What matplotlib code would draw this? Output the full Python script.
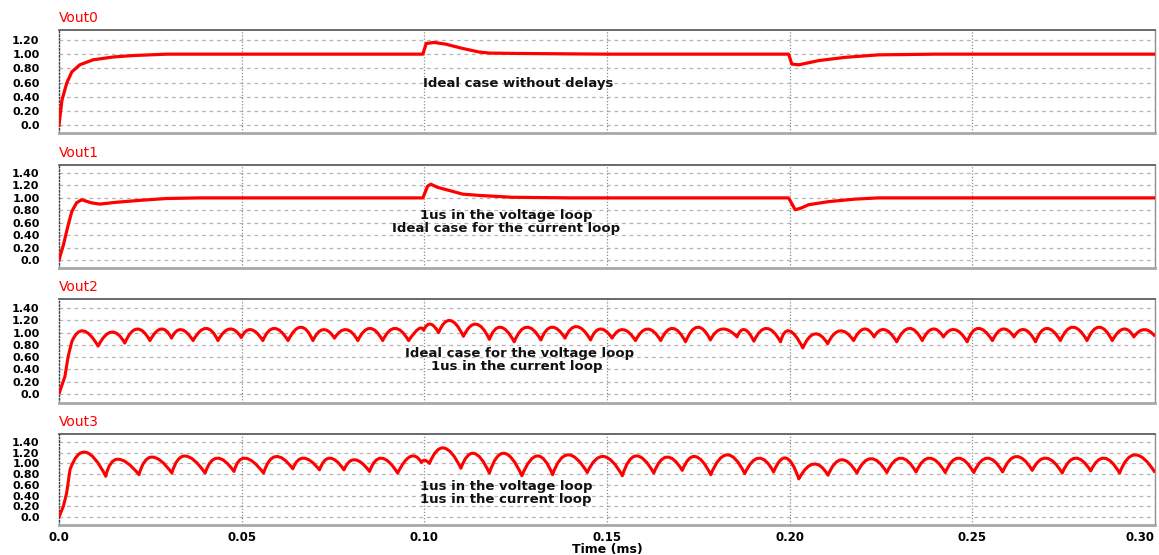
from matplotlib import pyplot
from matplotlib.path import Path
from matplotlib.patches import PathPatch
import numpy

# --- data (time in ms, voltage in per unit) ---
vout0_t = [0.0, 0.0008, 0.0021, 0.0035, 0.0057, 0.0093, 0.0148, 0.0202, 0.0295, 0.045, 0.06, 0.075,
           0.0996, 0.1005, 0.1027, 0.1059, 0.1105, 0.115, 0.1178, 0.125, 0.15, 0.175,
           0.1997, 0.2006, 0.2025, 0.208, 0.2152, 0.2243, 0.24, 0.27, 0.30]
vout0_v = [0.0, 0.35, 0.59, 0.75, 0.85, 0.92, 0.96, 0.98, 1.0, 1.0, 1.0, 1.0,
           1.0, 1.15, 1.165, 1.14, 1.08, 1.03, 1.015, 1.01, 1.0, 1.0,
           1.0, 0.86, 0.85, 0.91, 0.955, 0.99, 1.0, 1.0, 1.0]

vout1_t = [0.0, 0.0012, 0.0025, 0.0035, 0.0048, 0.0062, 0.0089, 0.0112, 0.0158, 0.0221, 0.0294, 0.0386,
           0.06, 0.08, 0.0996, 0.1009, 0.1018, 0.1036, 0.1068, 0.1105, 0.115, 0.124, 0.14, 0.16, 0.18,
           0.1997, 0.2015, 0.2029, 0.2052, 0.2107, 0.2179, 0.2243, 0.25, 0.28, 0.30]
vout1_v = [0.0, 0.24, 0.56, 0.78, 0.92, 0.97, 0.92, 0.90, 0.93, 0.96, 0.99, 1.0,
           1.0, 1.0, 1.0, 1.19, 1.22, 1.17, 1.12, 1.06, 1.04, 1.01, 1.0, 1.0, 1.0,
           1.0, 0.81, 0.83, 0.89, 0.94, 0.98, 1.0, 1.0, 1.0, 1.0]

# start-up ramp, then alternating peak / trough
vout2_rise_t = [0.0, 0.0016, 0.0025, 0.0035]
vout2_rise_v = [0.0, 0.28, 0.61, 0.85]
vout2_t = [0.0062, 0.0107, 0.0144, 0.0180, 0.0212, 0.0249, 0.0281, 0.0308, 0.0331, 0.0367,
           0.0404, 0.0435, 0.0467, 0.0499, 0.0522, 0.0558, 0.0586, 0.0627, 0.0663, 0.0695,
           0.0722, 0.0754, 0.0786, 0.0818, 0.0850, 0.0886, 0.0918, 0.0957, 0.0990, 0.0998,
           0.1015, 0.1039, 0.1068, 0.1107, 0.1141, 0.1178, 0.1205, 0.1246, 0.1278, 0.1319,
           0.1346, 0.1385, 0.1414, 0.1455, 0.1478, 0.1514, 0.1542, 0.1578, 0.1610, 0.1647,
           0.1678, 0.1715, 0.1747, 0.1783, 0.1811, 0.1856, 0.1874, 0.1902, 0.1935, 0.1975,
           0.1993, 0.2036, 0.2067, 0.2104, 0.2136, 0.2175, 0.2204, 0.2231, 0.2257, 0.2293,
           0.2327, 0.2363, 0.2391, 0.2421, 0.2450, 0.2486, 0.2512, 0.2555, 0.2582, 0.2614,
           0.2641, 0.2673, 0.2700, 0.2741, 0.2773, 0.2814, 0.2846, 0.2883, 0.2915, 0.2942,
           0.2970, 0.3000]
vout2_v = [1.03, 0.78, 1.01, 0.83, 1.06, 0.87, 1.06, 0.91, 1.05, 0.87,
           1.07, 0.87, 1.06, 0.92, 1.05, 0.87, 1.07, 0.87, 1.09, 0.87,
           1.05, 0.91, 1.05, 0.87, 1.07, 0.87, 1.07, 0.87, 1.06, 1.04,
           1.14, 1.00, 1.20, 0.94, 1.14, 0.89, 1.09, 0.85, 1.09, 0.88,
           1.09, 0.91, 1.10, 0.88, 1.06, 0.91, 1.05, 0.87, 1.06, 0.87,
           1.07, 0.85, 1.09, 0.88, 1.06, 0.93, 1.05, 0.86, 1.07, 0.85,
           1.03, 0.75, 0.98, 0.82, 1.03, 0.87, 1.06, 0.93, 1.05, 0.85,
           1.07, 0.87, 1.06, 0.93, 1.05, 0.85, 1.07, 0.87, 1.06, 0.93,
           1.05, 0.85, 1.07, 0.87, 1.09, 0.87, 1.09, 0.87, 1.06, 0.93,
           1.05, 0.94]

vout3_rise_t = [0.0, 0.0012, 0.0021, 0.0030]
vout3_rise_v = [0.0, 0.20, 0.45, 0.88]
vout3_t = [0.0066, 0.0128, 0.0148, 0.0219, 0.0244, 0.0309, 0.0335, 0.0400, 0.0426, 0.0479,
           0.0499, 0.0560, 0.0586, 0.0640, 0.0663, 0.0713, 0.0736, 0.0780, 0.0804, 0.0850,
           0.0877, 0.0927, 0.0964, 0.0992, 0.1000, 0.1014, 0.1050, 0.1100, 0.1132, 0.1178,
           0.1214, 0.1267, 0.1310, 0.1351, 0.1387, 0.1446, 0.1487, 0.1542, 0.1574, 0.1628,
           0.1660, 0.1706, 0.1738, 0.1784, 0.1827, 0.1877, 0.1915, 0.1956, 0.1990, 0.2025,
           0.2066, 0.2105, 0.2139, 0.2184, 0.2220, 0.2266, 0.2302, 0.2346, 0.2380, 0.2426,
           0.2459, 0.2504, 0.2539, 0.2583, 0.2617, 0.2664, 0.2699, 0.2746, 0.2779, 0.2824,
           0.2858, 0.2903, 0.2940, 0.3000]
vout3_v = [1.21, 0.76, 1.08, 0.79, 1.12, 0.82, 1.14, 0.82, 1.10, 0.85,
           1.10, 0.82, 1.13, 0.90, 1.10, 0.88, 1.10, 0.88, 1.07, 0.85,
           1.10, 0.82, 1.13, 1.02, 1.06, 1.00, 1.29, 0.91, 1.19, 0.82,
           1.19, 0.77, 1.14, 0.79, 1.16, 0.83, 1.13, 0.77, 1.14, 0.82,
           1.12, 0.87, 1.13, 0.79, 1.16, 0.81, 1.10, 0.84, 1.10, 0.71,
           0.99, 0.78, 1.07, 0.82, 1.09, 0.83, 1.10, 0.84, 1.10, 0.83,
           1.10, 0.83, 1.10, 0.84, 1.13, 0.87, 1.10, 0.82, 1.10, 0.86,
           1.10, 0.82, 1.16, 0.83]

names = ['Vout0', 'Vout1', 'Vout2', 'Vout3']
x_ticks = [0.0, 0.05, 0.10, 0.15, 0.20, 0.25, 0.30]
x_tick_labels = ['0.0', '0.05', '0.10', '0.15', '0.20', '0.25', '0.30']
y_ticks_0 = [0.0, 0.2, 0.4, 0.6, 0.8, 1.0, 1.2]
y_ticks_1 = [0.0, 0.2, 0.4, 0.6, 0.8, 1.0, 1.2, 1.4]

RED = '#ff0000'
FIG_W, FIG_H = 1159, 555


def scallop_path(rise_t, rise_v, t, v):
    """ramp drawn as straight segments, then one quadratic arc per peak (cusp at each trough)"""
    verts = list(zip(rise_t, rise_v))
    codes = [Path.MOVETO] + [Path.LINETO] * (len(rise_t) - 1)
    ta, va = rise_t[-1], rise_v[-1]
    for i in range(0, len(t) - 1, 2):
        tp, vp = t[i], v[i]
        tb, vb = t[i + 1], v[i + 1]
        cv = 2 * vp - (va + vb) / 2
        verts += [(tp, cv), (tb, vb)]
        codes += [Path.CURVE3, Path.CURVE3]
        ta, va = tb, vb
    return Path(verts, codes)


def px_axes(top, bottom):
    left, right = 59, 1155
    return [left / FIG_W, 1 - bottom / FIG_H, (right - left) / FIG_W, (bottom - top) / FIG_H]


def style_axis(axis, name, ylim, yticks, show_x):
    axis.set_xlim(0, 0.30)
    axis.set_ylim(*ylim)
    axis.set_yticks(yticks)
    axis.set_yticklabels(['0.0' if y == 0 else '%.2f' % y for y in yticks],
                         fontsize=8, fontweight='bold', family='DejaVu Sans')
    axis.set_xticks(x_ticks)
    if show_x:
        axis.set_xticklabels(x_tick_labels, fontsize=8.5, fontweight='bold', family='DejaVu Sans')
        axis.get_xticklabels()[-1].set_horizontalalignment('right')
    else:
        axis.set_xticklabels([])
    axis.tick_params(axis='both', length=0)
    axis.tick_params(axis='y', pad=14)
    axis.tick_params(axis='x', pad=4)
    for y in yticks:
        axis.axhline(y, color='#b4b4b4', linewidth=0.9, linestyle=(0, (3, 3)), zorder=1)
    for x in x_ticks[1:-1]:
        axis.axvline(x, color='#8c8c8c', linewidth=0.9, linestyle=(0, (1, 1.5)), zorder=1)
    axis.spines['top'].set_color('#505050')
    axis.spines['top'].set_linewidth(1.2)
    axis.spines['bottom'].set_color('#a8a8a8')
    axis.spines['bottom'].set_linewidth(2)
    axis.spines['right'].set_color('#909090')
    axis.spines['right'].set_linewidth(1)
    axis.spines['left'].set_color('#404040')
    axis.spines['left'].set_linestyle((0, (1, 1.5)))
    axis.spines['left'].set_linewidth(1)
    axis.annotate(name, xy=(0, 1), xycoords='axes fraction', xytext=(0, 6),
                  textcoords='offset points', ha='left', va='baseline',
                  color=RED, fontsize=10, family='DejaVu Sans')


def plot_data():
    pyplot.rcParams['font.family'] = ['DejaVu Sans']
    fig = pyplot.figure(figsize=(FIG_W / 100, FIG_H / 100), dpi=100)

    ax0 = fig.add_axes(px_axes(30, 133))
    ax1 = fig.add_axes(px_axes(165, 268))
    ax2 = fig.add_axes(px_axes(299, 403))
    ax3 = fig.add_axes(px_axes(434, 525))

    style_axis(ax0, names[0], (-0.11, 1.34), y_ticks_0, False)
    style_axis(ax1, names[1], (-0.13, 1.53), y_ticks_1, False)
    style_axis(ax2, names[2], (-0.15, 1.55), y_ticks_1, False)
    style_axis(ax3, names[3], (-0.15, 1.55), y_ticks_1, True)

    ax0.plot(vout0_t, vout0_v, color=RED, linewidth=2.3, zorder=3, solid_joinstyle='round')
    ax1.plot(vout1_t, vout1_v, color=RED, linewidth=2.3, zorder=3, solid_joinstyle='round')
    ax2.add_patch(PathPatch(scallop_path(vout2_rise_t, vout2_rise_v, vout2_t, vout2_v),
                            fill=False, edgecolor=RED, linewidth=2.2, zorder=3, joinstyle='round'))
    ax3.add_patch(PathPatch(scallop_path(vout3_rise_t, vout3_rise_v, vout3_t, vout3_v),
                            fill=False, edgecolor=RED, linewidth=2.2, zorder=3, joinstyle='round'))

    txt = dict(fontsize=9.5, fontweight='bold', color='#111111', va='center', zorder=4)
    ax0.text(0.0997, 0.59, 'Ideal case without delays', ha='left', **txt)
    ax1.text(0.1225, 0.72, '1us in the voltage loop', ha='center', **txt)
    ax1.text(0.1225, 0.51, 'Ideal case for the current loop', ha='center', **txt)
    ax2.text(0.1262, 0.667, 'Ideal case for the voltage loop', ha='center', **txt)
    ax2.text(0.1254, 0.44, '1us in the current loop', ha='center', **txt)
    ax3.text(0.0989, 0.56, '1us in the voltage loop', ha='left', **txt)
    ax3.text(0.0989, 0.32, '1us in the current loop', ha='left', **txt)

    fig.text((59 + 1155) / 2 / FIG_W, 1 - 543 / FIG_H, 'Time (ms)', ha='center', va='top',
             fontsize=9, fontweight='bold')

    fig.savefig('out.png', dpi=100, facecolor='white')
    pyplot.close(fig)


plot_data()
